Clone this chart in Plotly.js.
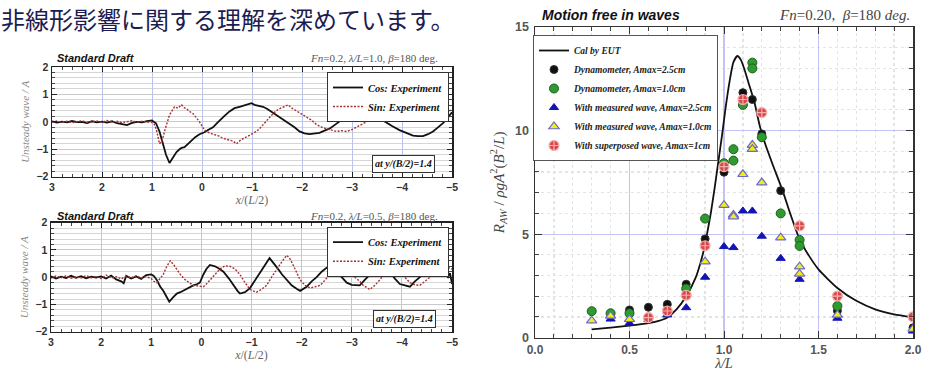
<!DOCTYPE html>
<html>
<head>
<meta charset="utf-8">
<script src="https://cdn.plot.ly/plotly-3.0.1.min.js"></script>
<style>html,body{margin:0;padding:0;background:#fff;}#chart{width:937px;height:371px;}</style>
</head>
<body>
<div id="chart"></div>
<script>
// ---------- Left panels: unsteady wave, [x/(L/2), value] ----------
const topCos = [[3.0,0.02],[2.9,-0.03],[2.8,0.01],[2.7,-0.02],[2.6,0.03],[2.5,-0.01],[2.4,0.0],[2.3,-0.04],[2.2,0.02],[2.1,-0.02],[2.0,0.01],[1.9,-0.03],[1.8,0.02],[1.7,-0.05],[1.6,-0.08],[1.5,-0.12],[1.4,-0.04],[1.3,0.0],[1.2,-0.02],[1.1,0.03],[1.0,0.05],[0.92,-0.05],[0.85,-0.35],[0.78,-0.85],[0.72,-1.2],[0.65,-1.5],[0.58,-1.3],[0.51,-1.1],[0.45,-1.0],[0.41,-0.95],[0.35,-0.92],[0.31,-0.85],[0.25,-0.78],[0.21,-0.7],[0.13,-0.55],[0.05,-0.45],[-0.05,-0.38],[-0.12,-0.3],[-0.22,-0.2],[-0.3,-0.05],[-0.35,0.05],[-0.45,0.22],[-0.55,0.38],[-0.65,0.5],[-0.75,0.55],[-0.85,0.6],[-0.99,0.68],[-1.05,0.62],[-1.12,0.6],[-1.22,0.55],[-1.3,0.48],[-1.35,0.42],[-1.45,0.3],[-1.55,0.18],[-1.65,0.05],[-1.75,-0.05],[-1.85,-0.2],[-1.95,-0.35],[-2.05,-0.42],[-2.15,-0.45],[-2.25,-0.42],[-2.35,-0.4],[-2.45,-0.32],[-2.55,-0.25],[-2.65,-0.12],[-2.75,0.0],[-2.85,0.15],[-2.95,0.28],[-3.05,0.32],[-3.15,0.38],[-3.28,0.35],[-3.38,0.3],[-3.49,0.2],[-3.6,0.08],[-3.69,-0.05],[-3.8,-0.15],[-3.95,-0.3],[-4.1,-0.42],[-4.22,-0.5],[-4.32,-0.52],[-4.42,-0.52],[-4.52,-0.45],[-4.62,-0.35],[-4.72,-0.2],[-4.82,-0.05],[-4.9,0.12],[-5.0,0.35]];
const topSin = [[3.0,-0.02],[2.9,0.03],[2.8,-0.01],[2.7,0.02],[2.6,-0.03],[2.5,0.01],[2.4,0.04],[2.3,-0.02],[2.2,0.0],[2.1,0.03],[2.0,-0.02],[1.9,0.05],[1.8,-0.01],[1.7,0.02],[1.6,-0.03],[1.5,0.01],[1.4,0.04],[1.3,-0.02],[1.2,0.02],[1.1,-0.01],[1.0,-0.02],[0.95,-0.1],[0.91,-0.3],[0.85,-0.8],[0.8,-0.7],[0.75,-0.35],[0.71,-0.1],[0.65,0.25],[0.6,0.4],[0.55,0.55],[0.48,0.5],[0.41,0.62],[0.36,0.52],[0.31,0.48],[0.25,0.38],[0.18,0.3],[0.1,0.12],[0.05,0.0],[-0.05,-0.3],[-0.12,-0.38],[-0.22,-0.45],[-0.32,-0.5],[-0.42,-0.6],[-0.52,-0.65],[-0.62,-0.7],[-0.69,-0.8],[-0.78,-0.65],[-0.89,-0.55],[-1.0,-0.45],[-1.09,-0.35],[-1.15,-0.25],[-1.22,-0.1],[-1.32,0.1],[-1.42,0.3],[-1.52,0.45],[-1.62,0.55],[-1.72,0.62],[-1.8,0.5],[-1.89,0.4],[-2.0,0.3],[-2.09,0.2],[-2.2,0.05],[-2.29,-0.1],[-2.4,-0.2],[-2.49,-0.25],[-2.6,-0.3],[-2.69,-0.35],[-2.8,-0.32],[-2.89,-0.35],[-3.0,-0.28],[-3.09,-0.2],[-3.2,-0.1],[-3.29,0.0],[-3.4,0.12],[-3.49,0.25],[-3.55,0.32],[-3.62,0.38],[-3.72,0.35],[-3.82,0.35],[-3.95,0.32],[-4.09,0.3],[-4.2,0.25],[-4.35,0.15],[-4.5,0.12],[-4.62,0.15],[-4.72,0.2],[-4.82,0.3],[-4.92,0.38],[-5.0,0.45]];
const botCos = [[3.0,0.03],[2.9,-0.05],[2.8,0.02],[2.7,-0.03],[2.6,0.05],[2.5,-0.02],[2.4,0.04],[2.3,-0.04],[2.2,0.02],[2.1,-0.01],[2.0,0.03],[1.9,-0.05],[1.8,0.06],[1.7,-0.08],[1.6,-0.15],[1.55,-0.22],[1.5,0.05],[1.4,-0.05],[1.3,0.03],[1.2,-0.06],[1.1,0.08],[1.0,0.1],[0.95,0.05],[0.89,-0.1],[0.82,-0.35],[0.76,-0.5],[0.7,-0.7],[0.64,-0.9],[0.57,-0.75],[0.49,-0.6],[0.42,-0.55],[0.32,-0.45],[0.24,-0.38],[0.16,-0.3],[0.08,-0.25],[0.03,-0.2],[-0.04,0.1],[-0.1,0.3],[-0.17,0.45],[-0.27,0.4],[-0.35,0.32],[-0.44,0.2],[-0.55,-0.05],[-0.64,-0.3],[-0.72,-0.5],[-0.77,-0.6],[-0.87,-0.55],[-0.97,-0.4],[-1.07,-0.1],[-1.17,0.2],[-1.27,0.45],[-1.36,0.7],[-1.43,0.55],[-1.51,0.35],[-1.61,0.1],[-1.71,-0.1],[-1.8,-0.3],[-1.9,-0.42],[-1.97,-0.5],[-2.1,-0.35],[-2.2,-0.15],[-2.3,0.0],[-2.4,0.2],[-2.5,0.35],[-2.6,0.3],[-2.7,0.2],[-2.8,0.0],[-2.9,-0.2],[-3.0,-0.28],[-3.16,-0.3],[-3.26,-0.1],[-3.36,0.1],[-3.46,0.28],[-3.56,0.38],[-3.66,0.3],[-3.76,0.2],[-3.86,-0.05],[-3.96,-0.25],[-4.06,-0.3],[-4.16,-0.35],[-4.26,-0.15],[-4.36,0.0],[-4.46,0.2],[-4.56,0.35],[-4.66,0.32],[-4.76,0.3],[-4.85,0.15],[-4.92,0.0],[-4.96,0.15],[-5.0,-0.25]];
const botSin = [[3.0,-0.03],[2.9,0.04],[2.8,-0.02],[2.7,0.05],[2.6,-0.04],[2.5,0.02],[2.4,-0.03],[2.3,0.06],[2.2,-0.02],[2.1,0.03],[2.0,-0.05],[1.9,0.08],[1.8,-0.03],[1.7,0.02],[1.6,-0.06],[1.5,0.04],[1.4,-0.02],[1.3,0.05],[1.2,-0.03],[1.1,0.02],[1.0,-0.05],[0.95,-0.15],[0.89,-0.2],[0.82,-0.05],[0.76,0.1],[0.69,0.4],[0.62,0.6],[0.55,0.45],[0.49,0.3],[0.42,0.1],[0.32,-0.1],[0.24,-0.2],[0.16,-0.3],[0.08,-0.32],[-0.04,-0.35],[-0.1,-0.25],[-0.17,-0.1],[-0.27,0.1],[-0.37,0.3],[-0.47,0.42],[-0.57,0.4],[-0.67,0.3],[-0.77,0.1],[-0.87,-0.2],[-0.97,-0.45],[-1.03,-0.5],[-1.1,-0.55],[-1.2,-0.45],[-1.3,-0.3],[-1.4,0.0],[-1.5,0.3],[-1.6,0.55],[-1.7,0.8],[-1.76,0.7],[-1.83,0.45],[-1.9,0.2],[-1.97,-0.1],[-2.07,-0.3],[-2.17,-0.4],[-2.27,-0.35],[-2.37,-0.3],[-2.47,-0.1],[-2.56,0.1],[-2.66,0.25],[-2.76,0.3],[-2.86,0.25],[-2.96,0.15],[-3.06,0.0],[-3.16,-0.15],[-3.23,-0.3],[-3.36,-0.45],[-3.46,-0.3],[-3.56,-0.1],[-3.66,0.15],[-3.76,0.4],[-3.86,0.35],[-3.96,0.2],[-4.06,0.0],[-4.16,-0.2],[-4.26,-0.28],[-4.36,-0.3],[-4.46,-0.15],[-4.56,0.0],[-4.66,0.15],[-4.76,0.3],[-4.86,0.25],[-4.93,0.35],[-5.0,0.3]];

// ---------- Right panel: added resistance, [lambda/L, value] ----------
const calEUT = [[0.3,0.40],[0.4,0.49],[0.5,0.58],[0.6,0.70],[0.65,0.80],[0.7,0.98],[0.75,1.38],[0.8,2.0],[0.85,2.9],[0.875,3.6],[0.9,4.5],[0.91,5.0],[0.93,6.0],[0.95,7.2],[0.97,8.5],[0.99,9.8],[1.01,11.2],[1.03,12.4],[1.05,13.3],[1.071,13.6],[1.09,13.4],[1.11,12.9],[1.13,12.3],[1.16,11.4],[1.19,10.2],[1.22,9.3],[1.26,8.3],[1.31,7.1],[1.35,6.0],[1.4,4.75],[1.45,3.95],[1.5,3.3],[1.6,2.4],[1.7,1.78],[1.8,1.37],[1.9,1.13],[2.0,0.99]];
const dyno25 = [[0.5,1.34],[0.6,1.47],[0.7,1.61],[0.8,2.58],[0.9,4.77],[1.0,7.99],[1.1,11.83],[1.15,11.5],[1.2,9.84],[1.3,7.10],[1.6,1.30],[2.0,0.48]];
const dyno10 = [[0.3,1.28],[0.4,1.18],[0.5,1.18],[0.8,2.37],[0.9,5.75],[1.0,8.42],[1.05,9.10],[1.05,8.55],[1.1,11.24],[1.15,13.28],[1.15,13.0],[1.2,9.68],[1.3,6.0],[1.4,4.72],[1.4,4.43],[1.6,1.53]];
const meas25 = [[0.4,0.90],[0.5,0.70],[0.6,0.89],[0.7,1.10],[0.8,1.45],[0.9,2.92],[1.0,4.4],[1.05,4.35],[1.1,6.12],[1.15,6.12],[1.2,4.9],[1.3,3.83],[1.4,2.82],[1.6,0.94],[2.0,0.32]];
const meas10 = [[0.3,0.82],[0.4,1.05],[0.5,0.89],[0.9,3.67],[1.0,6.40],[1.05,5.93],[1.05,5.85],[1.1,7.89],[1.15,9.3],[1.15,9.1],[1.2,7.49],[1.3,4.83],[1.4,3.43],[1.4,3.08],[1.6,1.10],[2.0,0.42]];
const superposed = [[0.6,0.97],[0.7,1.29],[0.8,2.05],[0.9,4.44],[1.0,8.26],[1.1,11.5],[1.2,10.87],[1.4,5.40],[1.6,2.01],[2.0,1.01]];

const xs = a => a.map(p => p[0]);
const ys = a => a.map(p => p[1]);

const SERIF = 'Liberation Serif, DejaVu Serif, serif';
const SANS = 'Liberation Sans, Arial, sans-serif';
const W = 937, H = 371;
const px = v => v / W;
const py = v => (H - v) / H;

const legFont = {family: SERIF, size: 10.5, color: '#111', weight: 'bold', style: 'italic'};
const sinDash = '2px,1.5px';

const traces = [
  {x: xs(topCos), y: ys(topCos), xaxis: 'x', yaxis: 'y', mode: 'lines', name: 'Cos: Experiment', legend: 'legend',
   line: {color: '#111', width: 1.8}},
  {x: xs(topSin), y: ys(topSin), xaxis: 'x', yaxis: 'y', mode: 'lines', name: 'Sin: Experiment', legend: 'legend',
   line: {color: '#a83030', width: 1.4, dash: sinDash}},
  {x: xs(botCos), y: ys(botCos), xaxis: 'x2', yaxis: 'y2', mode: 'lines', name: 'Cos: Experiment', legend: 'legend2',
   line: {color: '#111', width: 1.8}},
  {x: xs(botSin), y: ys(botSin), xaxis: 'x2', yaxis: 'y2', mode: 'lines', name: 'Sin: Experiment', legend: 'legend2',
   line: {color: '#a83030', width: 1.4, dash: sinDash}},
  {x: xs(calEUT), y: ys(calEUT), xaxis: 'x3', yaxis: 'y3', mode: 'lines', name: 'Cal by EUT', legend: 'legend3',
   line: {color: '#111', width: 1.8, shape: 'spline', smoothing: 0.6}},
  {x: xs(dyno25), y: ys(dyno25), xaxis: 'x3', yaxis: 'y3', mode: 'markers', name: 'Dynamometer, Amax=2.5cm', legend: 'legend3',
   marker: {symbol: 'circle', size: 8, color: '#111', line: {color: '#333', width: 1}}},
  {x: xs(dyno10), y: ys(dyno10), xaxis: 'x3', yaxis: 'y3', mode: 'markers', name: 'Dynamometer, Amax=1.0cm', legend: 'legend3',
   marker: {symbol: 'circle', size: 9, color: '#2f9a2f', line: {color: '#1d5e1d', width: 1}}},
  {x: xs(meas25), y: ys(meas25), xaxis: 'x3', yaxis: 'y3', mode: 'markers', name: 'With measured wave, Amax=2.5cm', legend: 'legend3',
   marker: {symbol: 'triangle-up', size: 8, color: '#1414b4', line: {color: '#1414b4', width: 1}}},
  {x: xs(meas10), y: ys(meas10), xaxis: 'x3', yaxis: 'y3', mode: 'markers', name: 'With measured wave, Amax=1.0cm', legend: 'legend3',
   marker: {symbol: 'triangle-up', size: 9, color: '#f2ee10', line: {color: '#6a6ad0', width: 1.2}}},
  {x: xs(superposed), y: ys(superposed), xaxis: 'x3', yaxis: 'y3', mode: 'markers', name: 'With superposed wave, Amax=1cm', legend: 'legend3',
   marker: {symbol: 'circle-cross', size: 10, color: '#d84848', line: {color: '#f3b0b0', width: 1.2}}}
];

function leftX(domain, anchor) {
  return {
    domain: domain, anchor: anchor, range: [3, -5], autorange: false,
    dtick: 1, tick0: 0, ticks: 'inside', ticklen: 5, tickcolor: '#222',
    showline: true, linecolor: '#222', linewidth: 1.5, mirror: 'allticks',
    showgrid: true, gridcolor: '#b9c3ee', gridwidth: 1, zeroline: false,
    minor: {dtick: 0.2, ticks: 'inside', ticklen: 3, tickcolor: '#444', showgrid: false},
    tickfont: {family: SANS, size: 10.5, color: '#333', weight: 'bold'},
    title: {text: '<i>x</i>/(<i>L</i>/2)', font: {family: SERIF, size: 12, color: '#666'}, standoff: 3}
  };
}
function leftY(domain, anchor) {
  return {
    domain: domain, anchor: anchor, range: [-2, 2], autorange: false,
    dtick: 1, ticks: 'inside', ticklen: 5, tickcolor: '#222',
    showline: true, linecolor: '#222', linewidth: 1.5, mirror: 'allticks',
    showgrid: true, gridcolor: '#c9c9c9', zeroline: false,
    minor: {dtick: 0.2, ticks: 'inside', ticklen: 3, tickcolor: '#444', showgrid: true, gridcolor: '#d6d6d6'},
    tickfont: {family: SANS, size: 10.5, color: '#333', weight: 'bold'},
    title: {text: 'Unsteady wave / A', font: {family: SERIF, size: 11, color: '#888', style: 'italic'}, standoff: 4}
  };
}

const layout = {
  width: W, height: H,
  margin: {l: 0, r: 0, t: 0, b: 0},
  paper_bgcolor: '#fff', plot_bgcolor: '#fff',
  showlegend: true,
  xaxis: leftX([px(52), px(452)], 'y'),
  yaxis: leftY([py(176.7), py(67)], 'x'),
  xaxis2: leftX([px(51), px(452)], 'y2'),
  yaxis2: leftY([py(331.7), py(222.7)], 'x2'),
  xaxis3: {
    domain: [px(535), px(913)], anchor: 'y3', range: [0, 2], autorange: false,
    dtick: 0.5, tick0: 0, tickformat: '.1f', ticks: 'inside', ticklen: 7, tickcolor: '#333',
    showline: true, linecolor: '#333', linewidth: 1.5, mirror: 'allticks',
    showgrid: true, gridcolor: '#c3c3f6', gridwidth: 1.2, zeroline: false,
    minor: {dtick: 0.1, ticks: 'inside', ticklen: 4, tickcolor: '#444', showgrid: true, gridcolor: '#e4e4e4', griddash: 'dot'},
    tickfont: {family: SANS, size: 12, color: '#555', weight: 'bold'},
    title: {text: '<i>λ/L</i>', font: {family: SERIF, size: 14, color: '#444'}, standoff: 2}
  },
  yaxis3: {
    domain: [py(337.7), py(27)], anchor: 'x3', range: [0, 15], autorange: false,
    dtick: 5, tick0: 0, ticks: 'inside', ticklen: 7, tickcolor: '#333',
    showline: true, linecolor: '#333', linewidth: 1.5, mirror: 'allticks',
    showgrid: true, gridcolor: '#c3c3f6', gridwidth: 1.2, zeroline: false,
    minor: {dtick: 1, ticks: 'inside', ticklen: 4, tickcolor: '#444', showgrid: true, gridcolor: '#e4e4e4', griddash: 'dot'},
    tickfont: {family: SANS, size: 12.5, color: '#555', weight: 'bold'}, ticklabelstandoff: 2,
    title: {text: '<i>R</i><sub><i>AW</i></sub> / <i>ρgA</i><sup>2</sup>(<i>B</i><sup>2</sup>/<i>L</i>)', font: {family: SERIF, size: 15, color: '#444'}, standoff: 7}
  },
  legend: {x: px(449), y: py(72), xanchor: 'right', yanchor: 'top', bgcolor: '#fff', bordercolor: '#333', borderwidth: 1,
    font: legFont, tracegroupgap: 0, itemwidth: 30},
  legend2: {x: px(449), y: py(226.7), xanchor: 'right', yanchor: 'top', bgcolor: '#fff', bordercolor: '#333', borderwidth: 1,
    font: legFont, tracegroupgap: 0, itemwidth: 30},
  legend3: {x: px(533), y: py(35), xanchor: 'left', yanchor: 'top', bgcolor: '#fff', bordercolor: '#555', borderwidth: 1,
    font: {family: SERIF, size: 9.5, color: '#222', weight: 'bold', style: 'italic'}, tracegroupgap: 0, itemwidth: 30},
  annotations: [
    {xref: 'paper', yref: 'paper', x: 0, y: 1, xanchor: 'left', yanchor: 'top', showarrow: false, borderpad: 0,
     text: '非線形影響に関する理解を深めています。',
     font: {family: 'Noto Sans CJK JP, sans-serif', size: 24, color: '#1c1c52'}},
    {xref: 'paper', yref: 'paper', x: px(55), y: py(58), xanchor: 'left', yanchor: 'middle', showarrow: false,
     text: 'Standard Draft', font: {family: SANS, size: 11, color: '#111', weight: 'bold', style: 'italic'}},
    {xref: 'paper', yref: 'paper', x: px(440), y: py(58), xanchor: 'right', yanchor: 'middle', showarrow: false,
     text: '<i>Fn</i>=0.2, <i>λ/L</i>=1.0, <i>β</i>=180 deg.', font: {family: SERIF, size: 11, color: '#555'}},
    {xref: 'paper', yref: 'paper', x: px(55), y: py(216), xanchor: 'left', yanchor: 'middle', showarrow: false,
     text: 'Standard Draft', font: {family: SANS, size: 11, color: '#111', weight: 'bold', style: 'italic'}},
    {xref: 'paper', yref: 'paper', x: px(440), y: py(216), xanchor: 'right', yanchor: 'middle', showarrow: false,
     text: '<i>Fn</i>=0.2, <i>λ/L</i>=0.5, <i>β</i>=180 deg.', font: {family: SERIF, size: 11, color: '#555'}},
    {xref: 'paper', yref: 'paper', x: px(403), y: py(163.5), xanchor: 'center', yanchor: 'middle', showarrow: false,
     text: 'at y/(B/2)=1.4', bgcolor: '#fff', bordercolor: '#333', borderwidth: 1, borderpad: 2,
     font: {family: SERIF, size: 10, color: '#111', weight: 'bold', style: 'italic'}},
    {xref: 'paper', yref: 'paper', x: px(404), y: py(319), xanchor: 'center', yanchor: 'middle', showarrow: false,
     text: 'at y/(B/2)=1.4', bgcolor: '#fff', bordercolor: '#333', borderwidth: 1, borderpad: 2,
     font: {family: SERIF, size: 10, color: '#111', weight: 'bold', style: 'italic'}},
    {xref: 'paper', yref: 'paper', x: px(540), y: py(15), xanchor: 'left', yanchor: 'middle', showarrow: false,
     text: 'Motion free in waves', font: {family: SANS, size: 14, color: '#111', weight: 'bold', style: 'italic'}},
    {xref: 'paper', yref: 'paper', x: px(912), y: py(15), xanchor: 'right', yanchor: 'middle', showarrow: false,
     text: '<i>Fn</i>=0.20,  <i>β</i>=180 <i>deg.</i>', font: {family: SERIF, size: 15, color: '#444'}}
  ]
};

Plotly.newPlot('chart', traces, layout, {staticPlot: true, displayModeBar: false});
</script>
</body>
</html>
